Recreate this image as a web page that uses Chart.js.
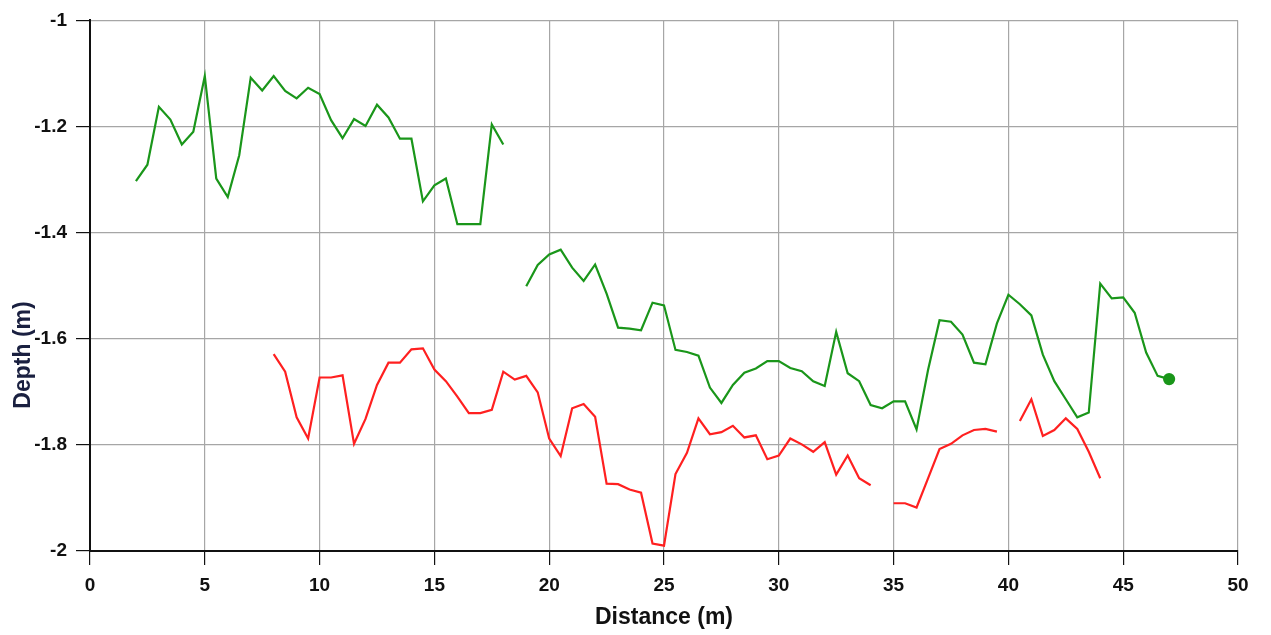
<!DOCTYPE html>
<html>
<head>
  <meta charset="utf-8">
  <title>Depth profile</title>
  <script src="https://cdn.jsdelivr.net/npm/chart.js"></script>
  <style>
    html, body { margin: 0; padding: 0; background: #fff; }
    #wrap { width: 1271px; height: 635px; }
  </style>
</head>
<body>
<div id="wrap"><canvas id="chart" width="1271" height="635"></canvas></div>
<script>
// Distance (m) at every sample, shared by both series
const distance = [
  2, 2.5, 3, 3.5, 4, 4.5, 5, 5.5, 6, 6.5, 7, 7.5, 8, 8.5, 9, 9.5, 10, 10.5,
  11, 11.5, 12, 12.5, 13, 13.5, 14, 14.5, 15, 15.5, 16, 16.5, 17, 17.5, 18, 18.5,
  19, 19.5, 20, 20.5, 21, 21.5, 22, 22.5, 23, 23.5, 24, 24.5, 25, 25.5, 26, 26.5,
  27, 27.5, 28, 28.5, 29, 29.5, 30, 30.5, 31, 31.5, 32, 32.5, 33, 33.5, 34, 34.5,
  35, 35.5, 36, 36.5, 37, 37.5, 38, 38.5, 39, 39.5, 40, 40.5, 41, 41.5, 42, 42.5,
  43, 43.5, 44, 44.5, 45, 45.5, 46, 46.5, 47
];

// Green depth line (null = gap)
const greenDepth = [
  -1.303, -1.272, -1.163, -1.187, -1.234, -1.210, -1.105, -1.298, -1.333, -1.254,
  -1.108, -1.132, -1.105, -1.133, -1.147, -1.127, -1.139, -1.188, -1.222, -1.186,
  -1.199, -1.159, -1.183, -1.223, -1.223, -1.341, -1.311, -1.298, -1.384, -1.384,
  -1.384, -1.196, -1.234, null,
  -1.501, -1.461, -1.441, -1.432, -1.466, -1.491, -1.460, -1.515, -1.579, -1.581,
  -1.584, -1.532, -1.537, -1.621, -1.625, -1.632, -1.692, -1.721, -1.687, -1.664,
  -1.656, -1.642, -1.642, -1.655, -1.661, -1.680, -1.689, -1.587, -1.665, -1.680,
  -1.725, -1.731, -1.718, -1.718, -1.771, -1.659, -1.565, -1.568, -1.592, -1.645,
  -1.648, -1.571, -1.517, -1.535, -1.556, -1.630, -1.680, -1.714, -1.748, -1.739,
  -1.496, -1.524, -1.522, -1.551, -1.626, -1.670, -1.676
];

// Red depth line (null = no data / gap)
const redDepth = [
  null, null, null, null, null, null, null, null, null, null, null, null,
  -1.629, -1.662, -1.748, -1.788, -1.673, -1.673, -1.669, -1.798, -1.751, -1.687,
  -1.645, -1.645, -1.620, -1.618, -1.658, -1.680, -1.709, -1.740, -1.740, -1.734,
  -1.662, -1.677, -1.670, -1.701, -1.788, -1.821, -1.731, -1.723, -1.747, -1.873,
  -1.874, -1.884, -1.890, -1.986, -1.990, -1.855, -1.815, -1.750, -1.780, -1.776,
  -1.764, -1.786, -1.782, -1.827, -1.820, -1.788, -1.799, -1.813, -1.795, -1.856,
  -1.820, -1.863, -1.876, null,
  -1.910, -1.910, -1.918, -1.863, -1.808, -1.798, -1.782, -1.772, -1.770, -1.775,
  null,
  -1.755, -1.714, -1.783, -1.772, -1.750, -1.770, -1.813, -1.863,
  null, null, null, null, null, null
];

const xTicks = [0, 5, 10, 15, 20, 25, 30, 35, 40, 45, 50];
const yTicks = [-2, -1.8, -1.6, -1.4, -1.2, -1];

const toPoints = (ys) => distance.map((d, i) => ({ x: d, y: ys[i] }));

const FONT = '"Liberation Sans", Arial, sans-serif';

// y axis title sits a bit below the axis middle, drawn by hand
const depthTitle = {
  id: 'depthTitle',
  afterDraw(chart) {
    const ctx = chart.ctx;
    ctx.save();
    ctx.translate(24, 355);
    ctx.rotate(-Math.PI / 2);
    ctx.font = 'bold 23px ' + FONT;
    ctx.fillStyle = '#1a2040';
    ctx.textAlign = 'center';
    ctx.textBaseline = 'middle';
    ctx.fillText('Depth (m)', 0, 0);
    ctx.restore();
  }
};

new Chart(document.getElementById('chart'), {
  type: 'line',
  data: {
    datasets: [
      {
        label: 'green',
        data: toPoints(greenDepth),
        borderColor: '#1a961a',
        backgroundColor: '#1a961a',
        borderWidth: 2.2,
        pointRadius: (c) => (c.dataIndex === distance.length - 1 ? 5 : 0),
        pointHoverRadius: 0,
        spanGaps: false,
        tension: 0
      },
      {
        label: 'red',
        data: toPoints(redDepth),
        borderColor: '#ff2020',
        backgroundColor: '#ff2020',
        borderWidth: 2.2,
        pointRadius: 0,
        spanGaps: false,
        tension: 0
      }
    ]
  },
  options: {
    responsive: false,
    animation: false,
    layout: { padding: { top: 20, right: 33, left: 0, bottom: 0 } },
    plugins: { legend: { display: false }, tooltip: { enabled: false } },
    scales: {
      x: {
        type: 'linear',
        min: 0,
        max: 50,
        afterBuildTicks: (s) => { s.ticks = xTicks.map(v => ({ value: v })); },
        afterFit: (s) => { s.height = 84; },
        grid: { color: '#a6a6a6', lineWidth: 1.2, tickColor: '#111', tickLength: 14 },
        border: { color: '#111', width: 2 },
        ticks: {
          color: '#111',
          font: { family: FONT, size: 19, weight: 'bold' },
          padding: 9,
          maxRotation: 0,
          callback: (v) => String(v)
        },
        title: {
          display: true,
          text: 'Distance (m)',
          color: '#111',
          font: { family: FONT, size: 23, weight: 'bold' },
          padding: { top: 0, bottom: 4 }
        }
      },
      y: {
        min: -2,
        max: -1,
        afterBuildTicks: (s) => { s.ticks = yTicks.map(v => ({ value: v })); },
        afterFit: (s) => { s.width = 90; },
        grid: { color: '#a6a6a6', lineWidth: 1.2, tickColor: '#111', tickLength: 14 },
        border: { color: '#111', width: 2 },
        ticks: {
          color: '#111',
          font: { family: FONT, size: 19, weight: 'bold' },
          padding: 9,
          callback: (v) => String(Math.round(v * 10) / 10)
        }
      }
    }
  },
  plugins: [depthTitle]
});
</script>
</body>
</html>
